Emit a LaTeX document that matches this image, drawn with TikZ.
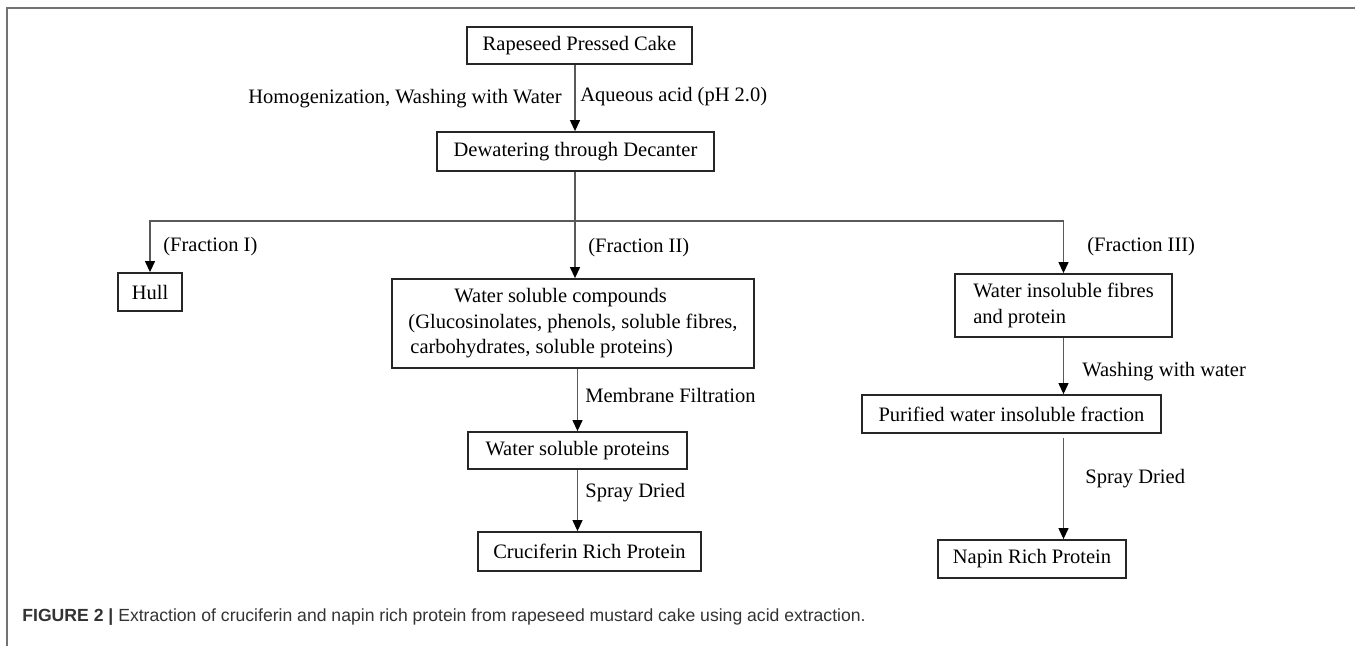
\documentclass[tikz,border=0pt]{standalone}
\usepackage{fontspec}
\setmainfont{Liberation Serif}
\newfontfamily\capfont{Liberation Sans}
\usetikzlibrary{arrows.meta}

\tikzset{
  box/.style={draw=black!85, line width=0.9pt, inner sep=0pt, font=\fontsize{10.25}{12.75}\selectfont},
  lbl/.style={inner sep=0pt, font=\fontsize{10.25}{12.75}\selectfont},
  conn/.style={draw=black!65, line width=0.6pt},
  arr/.style={conn, -{Triangle[width=5pt,length=5.5pt,color=black]}}
}

\begin{document}
\begin{tikzpicture}[x=0.5pt,y=-0.5pt]
  \useasboundingbox (0,0) rectangle (1355,646);
  % frame
  \draw[black!55, line width=1pt] (7,646) -- (7,8) -- (1355,8);

  % boxes
  \node[box, minimum width=112.5pt, minimum height=18.5pt] (cake) at (579.5,45.5) {Rapeseed Pressed Cake};
  \node[box, minimum width=138.5pt, minimum height=19.5pt] (dewater) at (575.5,151.5) {Dewatering through Decanter};
  \node[box, minimum width=32pt, minimum height=19pt] (hull) at (150,292) {Hull};
  \node[box, minimum width=181pt, minimum height=44.5pt, align=left] (wsc) at (573,323.5)
    {\hspace*{23pt}Water soluble compounds\\(Glucosinolates, phenols, soluble fibres,\\\hspace*{1pt}carbohydrates, soluble proteins)};
  \node[box, minimum width=108.5pt, minimum height=31.5pt, align=left] (wif) at (1063.5,305.5)
    {Water insoluble fibres\\and protein};
  \node[box, minimum width=149.5pt, minimum height=19pt] (purified) at (1011.5,414) {Purified water insoluble fraction};
  \node[box, minimum width=109.5pt, minimum height=18.5pt] (wsp) at (577.5,450.5) {Water soluble proteins};
  \node[box, minimum width=111.5pt, minimum height=19.5pt] (cruc) at (589.5,551.5) {Cruciferin Rich Protein};
  \node[box, minimum width=94pt, minimum height=19pt] (napin) at (1032,559) {Napin Rich Protein};

  % step labels
  \node[lbl, anchor=east] (homog) at (562,99) {Homogenization, Washing with Water};
  \node[lbl, anchor=west] (acid) at (580,97) {Aqueous acid (pH 2.0)};
  \node[lbl, anchor=west] (fracI) at (163,247) {(Fraction I)};
  \node[lbl, anchor=west] (fracII) at (588,248) {(Fraction II)};
  \node[lbl, anchor=west] (fracIII) at (1087,247) {(Fraction III)};
  \node[lbl, anchor=west] (membrane) at (585,395) {Membrane Filtration};
  \node[lbl, anchor=west] (sprayA) at (585,493) {Spray Dried};
  \node[lbl, anchor=west] (washing) at (1082,372) {Washing with water};
  \node[lbl, anchor=west] (sprayB) at (1085,479) {Spray Dried};

  % connectors
  \coordinate (split) at (575,221);
  \draw[arr] (cake.south -| split) -- (dewater.north -| split);
  \draw[conn] (dewater.south -| split) -- (split);
  \draw[arr] (split) -| (hull.north);
  \draw[arr] (split) -- (wsc.north -| split);
  \draw[arr] (split) -| (wif.north);
  \draw[arr] (wsc.south -| wsp.north) -- (wsp.north);
  \draw[arr] (wsp.south) -- (wsp.south |- cruc.north);
  \draw[arr] (wif.south) -- (wif.south |- purified.north);
  \draw[arr] ([yshift=-2pt]purified.south -| wif.south) -- (napin.north -| wif.south);

  % caption
  \node[anchor=west, inner sep=0pt, text=black!80, font=\capfont\fontsize{8.8}{10}\selectfont] (caption) at (22,617)
    {\textbf{FIGURE 2 |} Extraction of cruciferin and napin rich protein from rapeseed mustard cake using acid extraction.};
\end{tikzpicture}
\end{document}
